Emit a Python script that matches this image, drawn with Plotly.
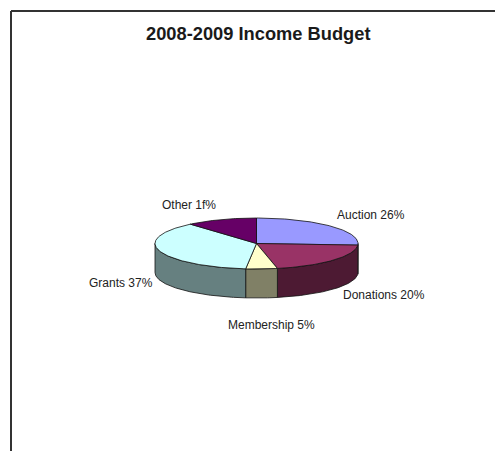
import numpy as np
import plotly.graph_objects as go

# Data
categories = ["Auction", "Donations", "Membership", "Grants", "Other"]
shares = [26.0, 20.7, 5.0, 37.0, 11.3]          # slice sizes as drawn
label_pct = ["26%", "20%", "5%", "37%", "1f%"]  # label text as printed
title_text = "2008-2009 Income Budget"

# Styles
top_colors = ["#9999FF", "#993366", "#FFFFCC", "#CCFFFF", "#660066"]
side_colors = ["#4D4D80", "#4D1A33", "#808066", "#668080", "#330033"]
CX, CY, RX, RY, DEPTH = 256.5, 243.5, 101.5, 25.5, 29
label_xy = {"Auction": (370.5, 215), "Donations": (383.5, 295), "Membership": (271, 325),
            "Grants": (121, 283), "Other": (188.5, 205)}


def arc(a0, a1, dy=0.0):
    t = np.radians(np.linspace(a0, a1, max(2, int(abs(a1 - a0)) + 2)))
    return CX + RX * np.sin(t), CY + RY * -np.cos(t) + dy


fig = go.Figure()
edges = np.cumsum([0] + shares) / sum(shares) * 360
LINE = dict(color="#111111", width=0.8)

# Side walls first, only the part facing the viewer
for i, name in enumerate(categories):
    a0, a1 = max(edges[i], 90), min(edges[i + 1], 270)
    if a1 <= a0:
        continue
    xt, yt = arc(a0, a1)
    xb, yb = arc(a0, a1, DEPTH)
    fig.add_trace(go.Scatter(x=np.r_[xt, xb[::-1], xt[0]], y=np.r_[yt, yb[::-1], yt[0]],
                             mode="lines", fill="toself", fillcolor=side_colors[i],
                             line=LINE, hoverinfo="skip", name=name + " side"))

# Top faces
for i, name in enumerate(categories):
    xt, yt = arc(edges[i], edges[i + 1])
    fig.add_trace(go.Scatter(x=np.r_[CX, xt, CX], y=np.r_[CY, yt, CY],
                             mode="lines", fill="toself", fillcolor=top_colors[i],
                             line=LINE, hoverinfo="text", text=f"{name} {label_pct[i]}", name=name))

for name, pct in zip(categories, label_pct):
    x, y = label_xy[name]
    fig.add_annotation(x=x, y=y, text=f"{name} {pct}", showarrow=False,
                       font=dict(family="Liberation Sans", size=12, color="#222222"))

fig.add_annotation(x=258.5, y=33, text=f"<b>{title_text}</b>", showarrow=False,
                   font=dict(family="Liberation Sans", size=18.3, color="#1a1a1a"))

# Frame: top and left rules only, running off the page
FRAME = dict(color="#333333", width=2)
fig.add_shape(type="line", x0=11, x1=495, y0=11, y1=11, line=FRAME)
fig.add_shape(type="line", x0=11, x1=11, y0=11, y1=451, line=FRAME)

fig.update_layout(width=495, height=451, margin=dict(l=0, r=0, t=0, b=0),
                  paper_bgcolor="white", plot_bgcolor="white", showlegend=False,
                  xaxis=dict(range=[0, 495], visible=False, fixedrange=True),
                  yaxis=dict(range=[451, 0], visible=False, fixedrange=True))
fig.write_html("out.html", config={"displayModeBar": False},
               post_script="document.body.style.margin='0';document.documentElement.style.overflow='hidden';")
